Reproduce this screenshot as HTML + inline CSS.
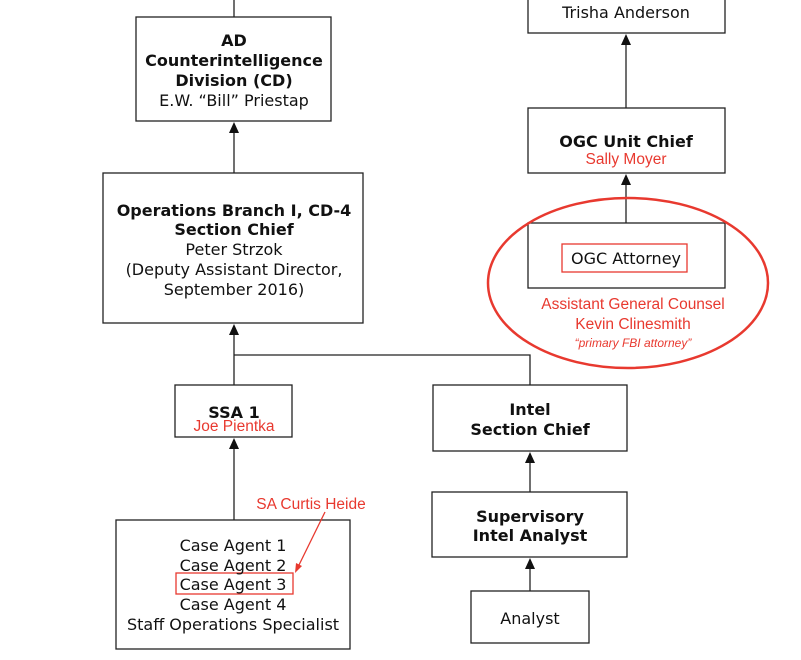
<!DOCTYPE html>
<html><head><style>body{margin:0;background:#fff}svg{display:block}
text{font-family:"DejaVu Sans",Verdana,sans-serif;font-size:16px;text-anchor:middle;fill:#111}
.b{font-weight:bold}.r{fill:#e8392f;font-family:"Liberation Sans",Arial,sans-serif;font-size:15.5px}
</style></head><body>
<svg width="801" height="660" viewBox="0 0 801 660" xmlns="http://www.w3.org/2000/svg">
<g stroke="#222" stroke-width="1.3" fill="none">
<line x1="234" y1="0" x2="234" y2="17"/>
<line x1="234" y1="173" x2="234" y2="130"/>
<line x1="234" y1="385" x2="234" y2="332"/>
<polyline points="234,355 530,355 530,385"/>
<line x1="234" y1="520" x2="234" y2="446"/>
<line x1="530" y1="492" x2="530" y2="460"/>
<line x1="530" y1="591" x2="530" y2="566"/>
<line x1="626" y1="108" x2="626" y2="42"/>
<line x1="626" y1="223" x2="626" y2="182"/>
<rect x="136" y="17" width="195" height="104" fill="#fff"/>
<rect x="103" y="173" width="260" height="150" fill="#fff"/>
<rect x="175" y="385" width="117" height="52" fill="#fff"/>
<rect x="116" y="520" width="234" height="129" fill="#fff"/>
<rect x="433" y="385" width="194" height="66" fill="#fff"/>
<rect x="432" y="492" width="195" height="65" fill="#fff"/>
<rect x="471" y="591" width="118" height="52" fill="#fff"/>
<rect x="528" y="-5" width="197" height="38" fill="#fff"/>
<rect x="528" y="108" width="197" height="65" fill="#fff"/>
<rect x="528" y="223" width="197" height="65" fill="#fff"/>
</g>
<g fill="#111">
<path d="M234,122 L229,133 L239,133 Z"/>
<path d="M234,324 L229,335 L239,335 Z"/>
<path d="M234,438 L229,449 L239,449 Z"/>
<path d="M530,452 L525,463 L535,463 Z"/>
<path d="M530,558 L525,569 L535,569 Z"/>
<path d="M626,34 L621,45 L631,45 Z"/>
<path d="M626,174 L621,185 L631,185 Z"/>
</g>
<g fill="none" stroke="#e8392f">
<ellipse cx="628" cy="283" rx="140" ry="85" stroke-width="2.5"/>
<rect x="562" y="244" width="125" height="28" stroke-width="1.3"/>
<rect x="176" y="573" width="117" height="21" stroke-width="1.3"/>
<line x1="325" y1="512" x2="298" y2="567" stroke-width="1.3"/>
</g>
<path d="M295,573 L296,563 L302,566 Z" fill="#e8392f"/>
<text class="b" x="234" y="46">AD</text>
<text class="b" x="234" y="66">Counterintelligence</text>
<text class="b" x="234" y="86">Division (CD)</text>
<text x="234" y="106">E.W. “Bill” Priestap</text>
<text class="b" x="234" y="216">Operations Branch I, CD-4</text>
<text class="b" x="234" y="235">Section Chief</text>
<text x="234" y="255">Peter Strzok</text>
<text x="234" y="275">(Deputy Assistant Director,</text>
<text x="234" y="295">September 2016)</text>
<text class="b" x="234" y="418">SSA 1</text>
<text class="r" x="234" y="431">Joe Pientka</text>
<text class="r" x="311" y="509">SA Curtis Heide</text>
<text x="233" y="551">Case Agent 1</text>
<text x="233" y="571">Case Agent 2</text>
<text x="233" y="590">Case Agent 3</text>
<text x="233" y="610">Case Agent 4</text>
<text x="233" y="630">Staff Operations Specialist</text>
<text class="b" x="530" y="415">Intel</text>
<text class="b" x="530" y="435">Section Chief</text>
<text class="b" x="530" y="522">Supervisory</text>
<text class="b" x="530" y="541">Intel Analyst</text>
<text x="530" y="624">Analyst</text>
<text x="626" y="18">Trisha Anderson</text>
<text class="b" x="626" y="147">OGC Unit Chief</text>
<text class="r" x="626" y="164">Sally Moyer</text>
<text x="626" y="264">OGC Attorney</text>
<text class="r" x="633" y="309">Assistant General Counsel</text>
<text class="r" x="633" y="329">Kevin Clinesmith</text>
<text class="r" x="633" y="347" style="font-style:italic;font-size:12px">“primary FBI attorney”</text>
</svg>
</body></html>
